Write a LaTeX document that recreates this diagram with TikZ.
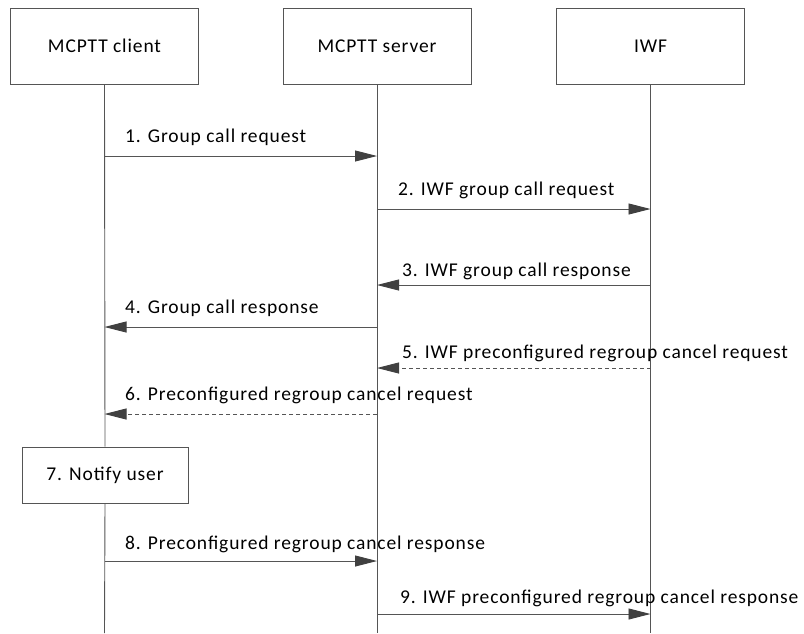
\documentclass[tikz,border=0pt]{standalone}
\usepackage{fontspec}
\setmainfont{Carlito}[LetterSpace=4.5]
\usetikzlibrary{arrows.meta}
\definecolor{ln}{HTML}{555555}
\definecolor{tipc}{HTML}{404040}
\begin{document}
\begin{tikzpicture}[x=1pt,y=-1pt,
  ent/.style={draw=ln,line width=0.9pt,minimum width=188pt,minimum height=76pt,inner sep=0pt,font=\fontsize{19.5}{21}\selectfont},
  life/.style={draw=ln,line width=0.9pt},
  msg/.style={draw=ln,line width=0.9pt,-{Triangle[length=22pt,width=11pt,fill=tipc,color=tipc]}},
  dmsg/.style={msg,dash pattern=on 4pt off 3pt},
  lbl/.style={font=\fontsize{19.5}{21}\selectfont,anchor=base west,inner sep=0pt}]
\useasboundingbox (0,0) rectangle (804,633);
\node[ent] (c) at (104.5,46) {MCPTT client};
\node[ent] (s) at (377,46) {MCPTT server};
\node[ent] (w) at (650.5,46) {IWF};
\coordinate (cb) at (104.5,633);
\coordinate (sb) at (377,633);
\coordinate (wb) at (650.5,633);
\node[ent,minimum width=166pt,minimum height=56pt,fill=white] (n) at (105,475) {7. Notify user};
\draw[life] (c.south) -- (n.north);
\draw[life] (n.south) -- (cb);
\draw[life] (s.south) -- (sb);
\draw[life] (w.south) -- (wb);
% messages
\foreach \nm/\y in {c1/156,c4/327,c6/414,c8/561}{\coordinate (\nm) at (104.5,\y);}
\foreach \nm/\y in {s1/156,s2/209,s3/285,s4/327,s5/368,s6/414,s8/561,s9/614}{\coordinate (\nm) at (377,\y);}
\foreach \nm/\y in {w2/209,w3/285,w5/368,w9/614}{\coordinate (\nm) at (650.5,\y);}
\draw[msg] (c1) -- (s1);
\node[lbl] (l1) at (125,142) {1. Group call request};
\draw[msg] (s2) -- (w2);
\node[lbl] (l2) at (398,195) {2. IWF group call request};
\draw[msg] (w3) -- (s3);
\node[lbl] (l3) at (402,276) {3. IWF group call response};
\draw[msg] (s4) -- (c4);
\node[lbl] (l4) at (125,313) {4. Group call response};
\draw[dmsg] (w5) -- (s5);
\node[lbl] (l5) at (402,358) {5. IWF preconfigured regroup cancel request};
\draw[dmsg] (s6) -- (c6);
\node[lbl] (l6) at (125,400) {6. Preconfigured regroup cancel request};
\draw[msg] (c8) -- (s8);
\node[lbl] (l8) at (125,549) {8. Preconfigured regroup cancel response};
\draw[msg] (s9) -- (w9);
\node[lbl] (l9) at (400,603) {9. IWF preconfigured regroup cancel response};
\end{tikzpicture}
\end{document}
